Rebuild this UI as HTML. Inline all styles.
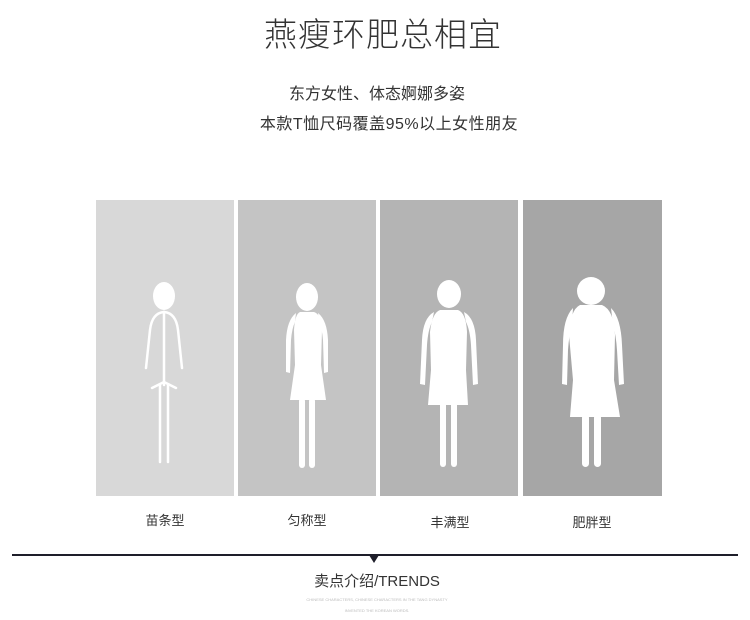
<!DOCTYPE html>
<html><head><meta charset="utf-8"><style>
body{margin:0;width:750px;height:620px;background:#fff;position:relative;overflow:hidden;font-family:"Liberation Sans","Noto Sans CJK SC",sans-serif;color:#333}
.t{position:absolute;left:0;width:750px;text-align:center;white-space:nowrap}
.panel{position:absolute;top:200px;height:296px}
.lab{position:absolute;top:510px;font-size:13px;color:#333;text-align:center;width:140px}
</style></head><body>
<div class="t" style="top:8px;font-size:33px;font-weight:300;color:#333;left:8px;letter-spacing:1px">燕瘦环肥总相宜</div>
<div class="t" style="top:80px;font-size:16px;left:2px">东方女性、体态婀娜多姿</div>
<div class="t" style="top:110px;font-size:16px;left:14px;letter-spacing:0.5px">本款T恤尺码覆盖95%以上女性朋友</div>

<div class="panel" style="left:96px;width:138px;background:#d8d8d8"></div>
<div class="panel" style="left:238px;width:138px;background:#c4c4c4"></div>
<div class="panel" style="left:380px;width:138px;background:#b4b4b4"></div>
<div class="panel" style="left:523px;width:139px;background:#a6a6a6"></div>

<svg width="750" height="620" style="position:absolute;left:0;top:0" fill="#fff" stroke="none">
<g>
<ellipse cx="164" cy="296" rx="11" ry="14"/>
<g fill="none" stroke="#fff" stroke-width="2.5" stroke-linecap="round">
<path d="M164 312 V385"/>
<path d="M164 312 Q152 313 150 330 L146 368"/>
<path d="M164 312 Q176 313 178 330 L182 368"/>
<path d="M152 388 L164 382 L176 388"/>
<path d="M160 385 V462 M168 385 V462"/>
</g></g>
<g>
<ellipse cx="307" cy="297" rx="11" ry="14"/>
<path d="M300 312 L314 312 Q321 314 322 330 L321 365 L326 400 L290 400 L295 365 L294 330 Q295 314 300 312Z"/>
<path d="M296 313 Q287 320 286 340 L286 372 L290 373 L291 340 Q292 328 295 322Z"/>
<path d="M318 313 Q327 320 328 340 L328 372 L324 373 L323 340 Q322 328 319 322Z"/>
<rect x="299" y="398" width="6" height="70" rx="3"/><rect x="309" y="398" width="6" height="70" rx="3"/>
</g>
<g>
<ellipse cx="449" cy="294" rx="12" ry="14"/>
<path d="M440 310 L458 310 Q466 313 467 332 L466 370 L468 405 L428 405 L431 370 L430 332 Q432 313 440 310Z"/>
<path d="M434 312 Q423 318 422 340 L420 384 L425 385 L427 345 Q428 330 432 322Z"/>
<path d="M464 312 Q475 318 476 340 L478 384 L473 385 L471 345 Q470 330 466 322Z"/>
<rect x="440" y="402" width="6" height="65" rx="3"/><rect x="451" y="402" width="6" height="65" rx="3"/>
</g>
<g>
<ellipse cx="591" cy="291" rx="14" ry="14"/>
<path d="M580 305 L602 305 Q614 310 615 335 L614 380 L620 417 L570 417 L573 380 L569 335 Q570 310 580 305Z"/>
<path d="M573 308 Q563 318 563 345 L562 384 L567 385 L568 350 Q569 335 572 325Z"/>
<path d="M611 308 Q621 318 622 345 L624 384 L619 385 L617 350 Q616 335 613 325Z"/>
<rect x="582" y="414" width="7" height="53" rx="3.5"/><rect x="594" y="414" width="7" height="53" rx="3.5"/>
</g>
<line x1="12" y1="555" x2="738" y2="555" stroke="#1e1e2a" stroke-width="2"/>
<path d="M369 555 L379 555 L374 563Z" fill="#1e1e2a"/>
</svg>

<div class="lab" style="left:95px">苗条型</div>
<div class="lab" style="left:237px">匀称型</div>
<div class="lab" style="left:380px;top:512px">丰满型</div>
<div class="lab" style="left:522px;top:512px">肥胖型</div>

<div class="t" style="top:570px;font-size:15px;left:2px">卖点介绍/TRENDS</div>
<div class="t" style="top:597px;font-size:4px;color:#bbb;left:2px">CHINESE CHARACTERS, CHINESE CHARACTERS IN THE TANG DYNASTY</div>
<div class="t" style="top:608px;font-size:4px;color:#bbb;left:2px">INVENTED THE KOREAN WORDS.</div>
</body></html>
